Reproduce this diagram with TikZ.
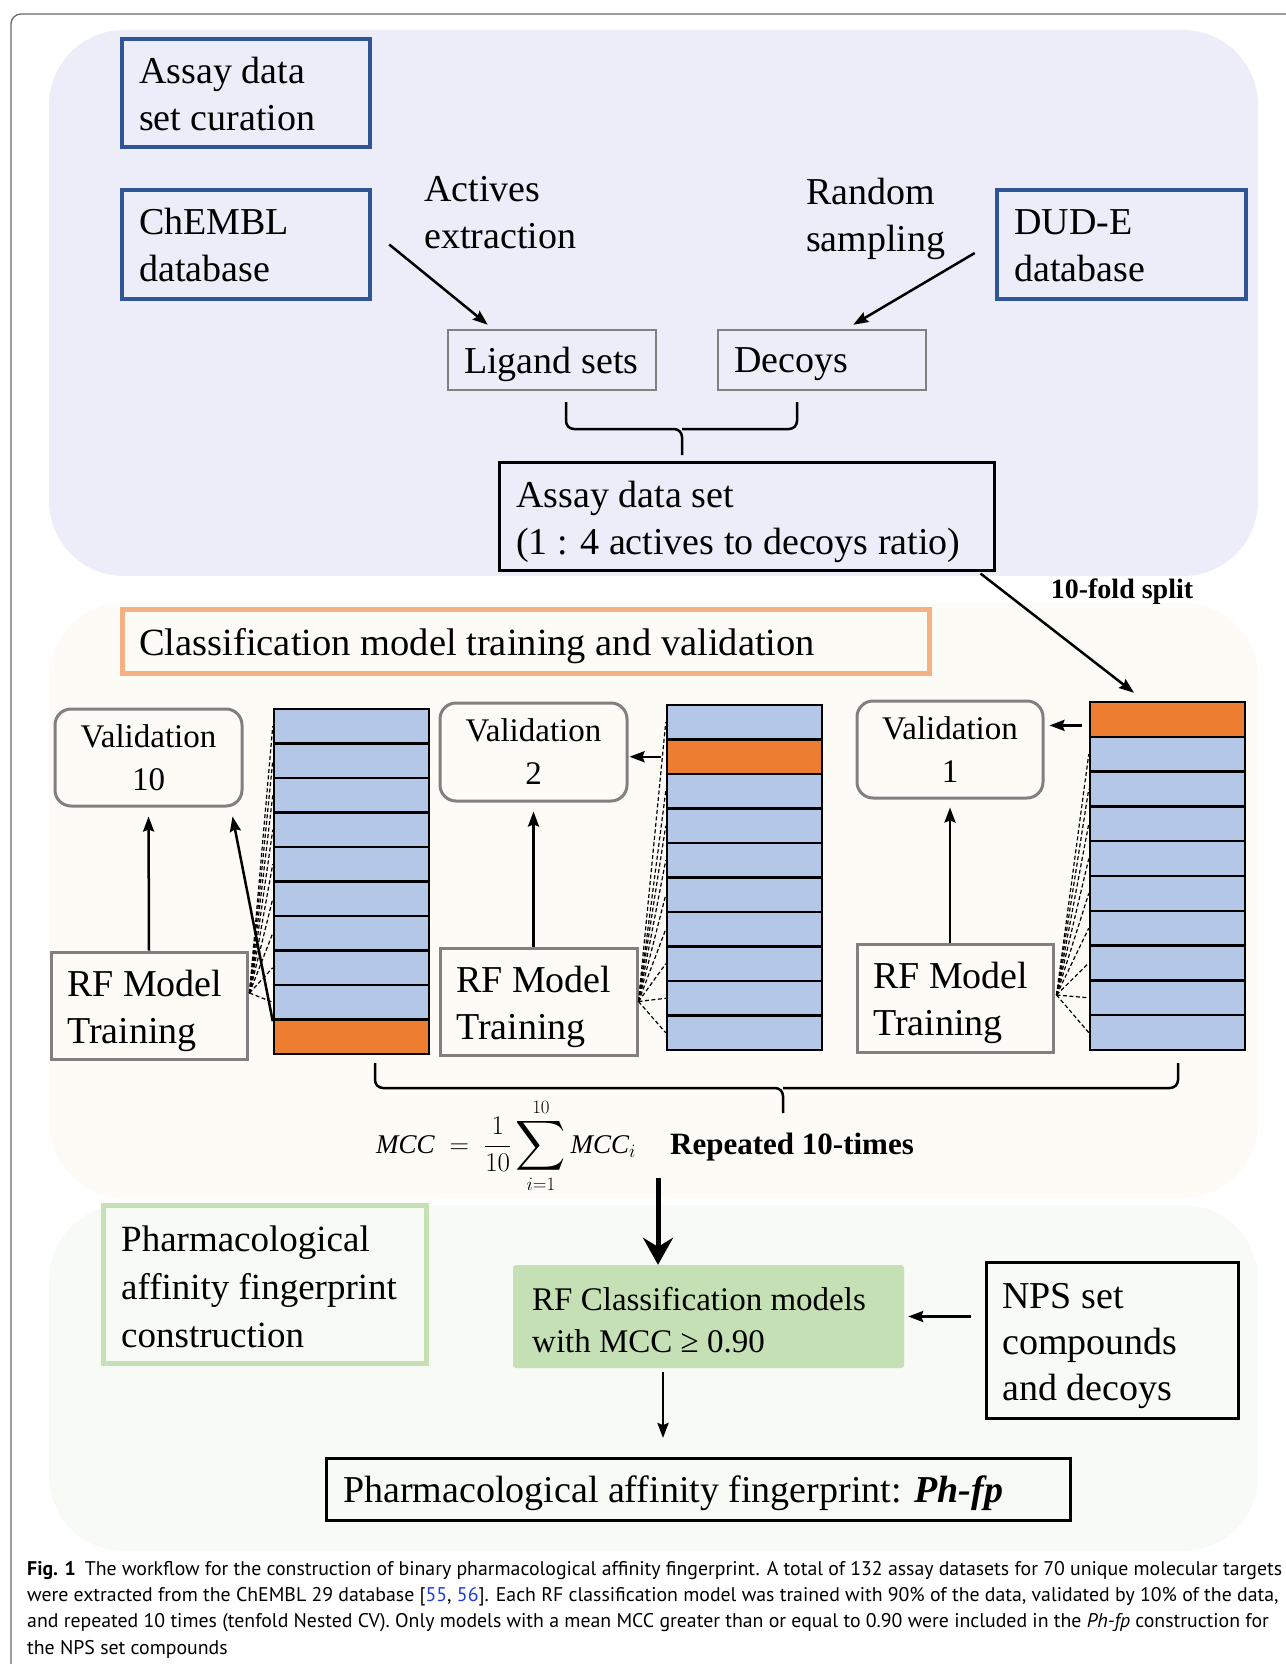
\documentclass[tikz,border=0pt]{standalone}
\usepackage{fix-cm}
\usepackage{amsmath}
\usepackage{graphicx}
\usepackage{fontspec}
\setmainfont{Liberation Serif}
\newfontfamily\capfont{PT Sans}
\usetikzlibrary{arrows.meta,calc}
\definecolor{regblue}{RGB}{236,237,248}
\definecolor{regorange}{RGB}{253,251,246}
\definecolor{reggreen}{RGB}{248,250,245}
\definecolor{bordblue}{RGB}{47,85,151}
\definecolor{bordorange}{RGB}{244,177,131}
\definecolor{bordgreen}{RGB}{197,224,180}
\definecolor{cellblue}{RGB}{180,199,231}
\definecolor{cellorange}{RGB}{237,125,49}
\definecolor{graybord}{RGB}{128,128,128}
\definecolor{framegray}{RGB}{105,105,105}
\definecolor{linkblue}{RGB}{30,60,230}
\begin{document}
\begin{tikzpicture}[x=1pt,y=-1pt,
  txt/.style={font=\fontsize{38}{47}\selectfont, align=left, inner sep=0pt},
  bluebox/.style={draw=bordblue, line width=4.5pt, inner sep=0pt},
  graybox/.style={draw=graybord, line width=2.5pt, inner sep=0pt},
  blackbox/.style={draw=black, line width=3pt, inner sep=0pt},
  valbox/.style={draw=graybord, line width=3pt, rounded corners=16pt, align=center, inner sep=0pt, font=\fontsize{33}{43}\selectfont},
  cell/.style={draw=black, line width=2.5pt, minimum width=155pt, inner sep=0pt},
  arr/.style={line width=2.5pt, -{Stealth[length=15pt,width=11pt,inset=2pt]}},
  dsh/.style={dash pattern=on 4pt off 2.5pt, line width=1.2pt},
  brc/.style={line width=2.5pt, rounded corners=8pt},
  capt/.style={font=\capfont\fontsize{19.8}{26}\selectfont, anchor=west, inner sep=0pt}
]
\useasboundingbox (0,0) rectangle (1285,1664);
% frame
\draw[framegray, line width=1.3pt, rounded corners=10pt] (11,1670) -- (11,14) -- (1290,14);
% regions
\fill[regblue, rounded corners=75pt] (49,30) rectangle (1258,576);
\fill[regorange, rounded corners=75pt] (49,603) rectangle (1258,1198);
\fill[reggreen, rounded corners=75pt] (49,1205) rectangle (1258,1551);

% ---------- top section ----------
\node[bluebox, minimum width=248pt, minimum height=108pt] (curation) at (246,93) {};
\node[txt, anchor=west] (curationT) at (139,94.5) {Assay data\\set curation};
\node[bluebox, minimum width=248pt, minimum height=109pt] (chembl) at (246,244.5) {};
\node[txt, anchor=west] (chemblT) at (139,245) {ChEMBL\\database};
\node[bluebox, minimum width=249pt, minimum height=109pt] (dude) at (1121.5,244.5) {};
\node[txt, anchor=west] (dudeT) at (1014,246) {DUD-E\\database};
\node[txt, anchor=west] (actives) at (424,213) {Actives\\extraction};
\node[txt, anchor=west] (random) at (806,219) {Random\\sampling};
\node[graybox, minimum width=208pt, minimum height=60pt] (ligand) at (552,360) {};
\node[txt, anchor=west] (ligandT) at (464,364) {Ligand sets};
\node[graybox, minimum width=208pt, minimum height=60pt] (decoys) at (822,360) {};
\node[txt, anchor=west] (decoysT) at (734,364) {Decoys};
\node[blackbox, minimum width=495pt, minimum height=108pt] (assay) at (746.5,516) {};
\node[txt, anchor=west] (assayT) at (516,522) {Assay data set\\(1 : 4 actives to decoys ratio)};
\node[font=\fontsize{28}{32}\selectfont\bfseries, inner sep=0pt] (split) at (1122,592) {10-fold split};

\draw[arr] ($(chembl.east)+(17,0)$) -- ($(ligand.north west)+(41,-4)$);
\draw[arr] ($(dude.west)+(-20,8.5)$) -- ($(decoys.north east)+(-74,-4)$);
\draw[brc] (566,402) |- (682,429) -- (682,455);
\draw[brc] (797,402) |- (682,429);

% ---------- middle section ----------
\node[draw=bordorange, line width=5pt, minimum width=807pt, minimum height=64pt, inner sep=0pt] (title) at (525.5,641) {};
\node[txt, anchor=west, font=\fontsize{38.5}{47}\selectfont] (titleT) at (139,646) {Classification model training and validation};

\node[valbox, minimum width=187pt, minimum height=97pt] (val10) at (148.5,757.5) {Validation\\10};
\node[valbox, minimum width=187pt, minimum height=98pt] (val2) at (533.5,752) {Validation\\2};
\node[valbox, minimum width=186pt, minimum height=97pt] (val1) at (950,749.5) {Validation\\1};

\node[graybox, line width=3pt, minimum width=196pt, minimum height=107pt] (rf1) at (149,1005.5) {};
\node[txt, anchor=west] (rf1T) at (67,1011) {RF Model\\Training};
\node[graybox, line width=3pt, minimum width=197pt, minimum height=107pt] (rf2) at (538.5,1001.5) {};
\node[txt, anchor=west] (rf2T) at (456,1007) {RF Model\\Training};
\node[graybox, line width=3pt, minimum width=196pt, minimum height=108pt] (rf3) at (955,998) {};
\node[txt, anchor=west] (rf3T) at (873,1003) {RF Model\\Training};

% stacks
\foreach \i in {1,...,10} {
  \ifnum\i=10 \def\cc{cellorange}\else\def\cc{cellblue}\fi
  \node[cell, minimum height=34.5pt, fill=\cc] (A\i) at (351.5,{709+34.5*(\i-0.5)}) {};
}
\foreach \i in {1,...,10} {
  \ifnum\i=2 \def\cc{cellorange}\else\def\cc{cellblue}\fi
  \node[cell, minimum height=34.5pt, fill=\cc] (B\i) at (744.5,{705+34.5*(\i-0.5)}) {};
}
\foreach \i in {1,...,10} {
  \ifnum\i=1 \def\cc{cellorange}\else\def\cc{cellblue}\fi
  \node[cell, minimum height=34.8pt, fill=\cc] (C\i) at (1167.5,{702+34.8*(\i-0.5)}) {};
}

\coordinate (cA) at ($(rf1.east)+(1,-12.5)$);
\coordinate (cB) at ($(rf2.east)+(0,0)$);
\coordinate (cC) at ($(rf3.east)+(2,-3)$);
\foreach \i in {1,...,9} \draw[dsh] (cA) -- (A\i.west);
\foreach \i in {1,3,4,5,6,7,8,9,10} \draw[dsh] (cB) -- (B\i.west);
\foreach \i in {2,...,10} \draw[dsh] (cC) -- (C\i.west);

\draw[arr, shorten >=9pt] (rf1.north) -- (val10.south);
\draw[arr, shorten >=9pt] (val2.south |- rf2.north) -- (val2.south);
\draw[arr, shorten >=8pt] (val1.south |- rf3.north) -- (val1.south);
\draw[arr] ($(A10.north west)+(0,3)$) -- ($(val10.south east)+(-11,9)$);
\draw[arr, shorten <=5pt, shorten >=1pt] (B2.west) -- (B2.west -| val2.east);
\draw[arr, shorten <=7pt, shorten >=5pt] ($(C1.west)+(0,6)$) -- ($(C1.west -| val1.east)+(0,6)$);
\draw[arr] ($(assay.south east)+(-15,2)$) -- ($(C1.north)+(-33.5,-8)$);

\draw[brc] (375,1063) |- (783,1088) -- (783,1113);
\draw[brc] (1178,1063) |- (783,1088);

\node[font=\fontsize{27}{30}\selectfont, anchor=west, inner sep=0pt] (mcc) at (376,1146)
  {$\mathit{MCC}\;=\;\dfrac{1}{10}\mathop{\vcenter{\hbox{\scalebox{1.4}{$\displaystyle\sum$}}}}\limits_{i=1}^{10}\mathit{MCC}_i$};
\node[font=\fontsize{31}{34}\selectfont\bfseries, anchor=west, inner sep=0pt] (rep) at (670,1147) {Repeated 10-times};

% ---------- bottom section ----------
\node[draw=bordgreen, line width=5pt, minimum width=323pt, minimum height=158pt, inner sep=0pt] (pharm) at (264.5,1284) {};
\node[txt, anchor=west, font=\fontsize{37}{48}\selectfont] (pharmT) at (121,1287) {Pharmacological\\affinity fingerprint\\construction};
\node[fill=bordgreen, rounded corners=3pt, minimum width=391pt, minimum height=103pt, inner sep=0pt] (green) at (708.5,1316.5) {};
\node[txt, anchor=west, font=\fontsize{33}{42}\selectfont] (greenT) at (532,1320) {RF Classification models\\with MCC ≥ 0.90};
\node[blackbox, minimum width=252pt, minimum height=156pt] (nps) at (1112,1340) {};
\node[txt, anchor=west, font=\fontsize{38}{46}\selectfont] (npsT) at (1002,1346) {NPS set\\compounds\\and decoys};
\node[blackbox, minimum width=744pt, minimum height=62pt] (ph) at (698,1489) {};
\node[txt, anchor=west] (phT) at (343,1493) {Pharmacological affinity fingerprint: \textbf{\textit{Ph-fp}}};

\coordinate (thk) at (658,1178);
\draw[line width=5pt, -{Stealth[length=27pt,width=30pt,inset=9pt]}] (thk) -- (thk |- green.north);
\draw[arr, shorten <=14pt, shorten >=4pt] (nps.west |- green.east) -- (green.east);
\coordinate (dn) at (663,1438);
\draw[arr] ($(green.south)+(-45.5,4)$) -- (dn);

% caption
\node[capt] (cap1) at (27,1571) {\textbf{Fig. 1}\hspace{0.45em}The workflow for the construction of binary pharmacological affinity fingerprint. A total of 132 assay datasets for 70 unique molecular targets};
\node[capt] (cap2) at (27,1597) {were extracted from the ChEMBL 29 database [\textcolor{linkblue}{55}, \textcolor{linkblue}{56}]. Each RF classification model was trained with 90\% of the data, validated by 10\% of the data,};
\node[capt] (cap3) at (27,1623) {and repeated 10 times (tenfold Nested CV). Only models with a mean MCC greater than or equal to 0.90 were included in the \textit{Ph-fp} construction for};
\node[capt] (cap4) at (27,1649) {the NPS set compounds};
\end{tikzpicture}
\end{document}
